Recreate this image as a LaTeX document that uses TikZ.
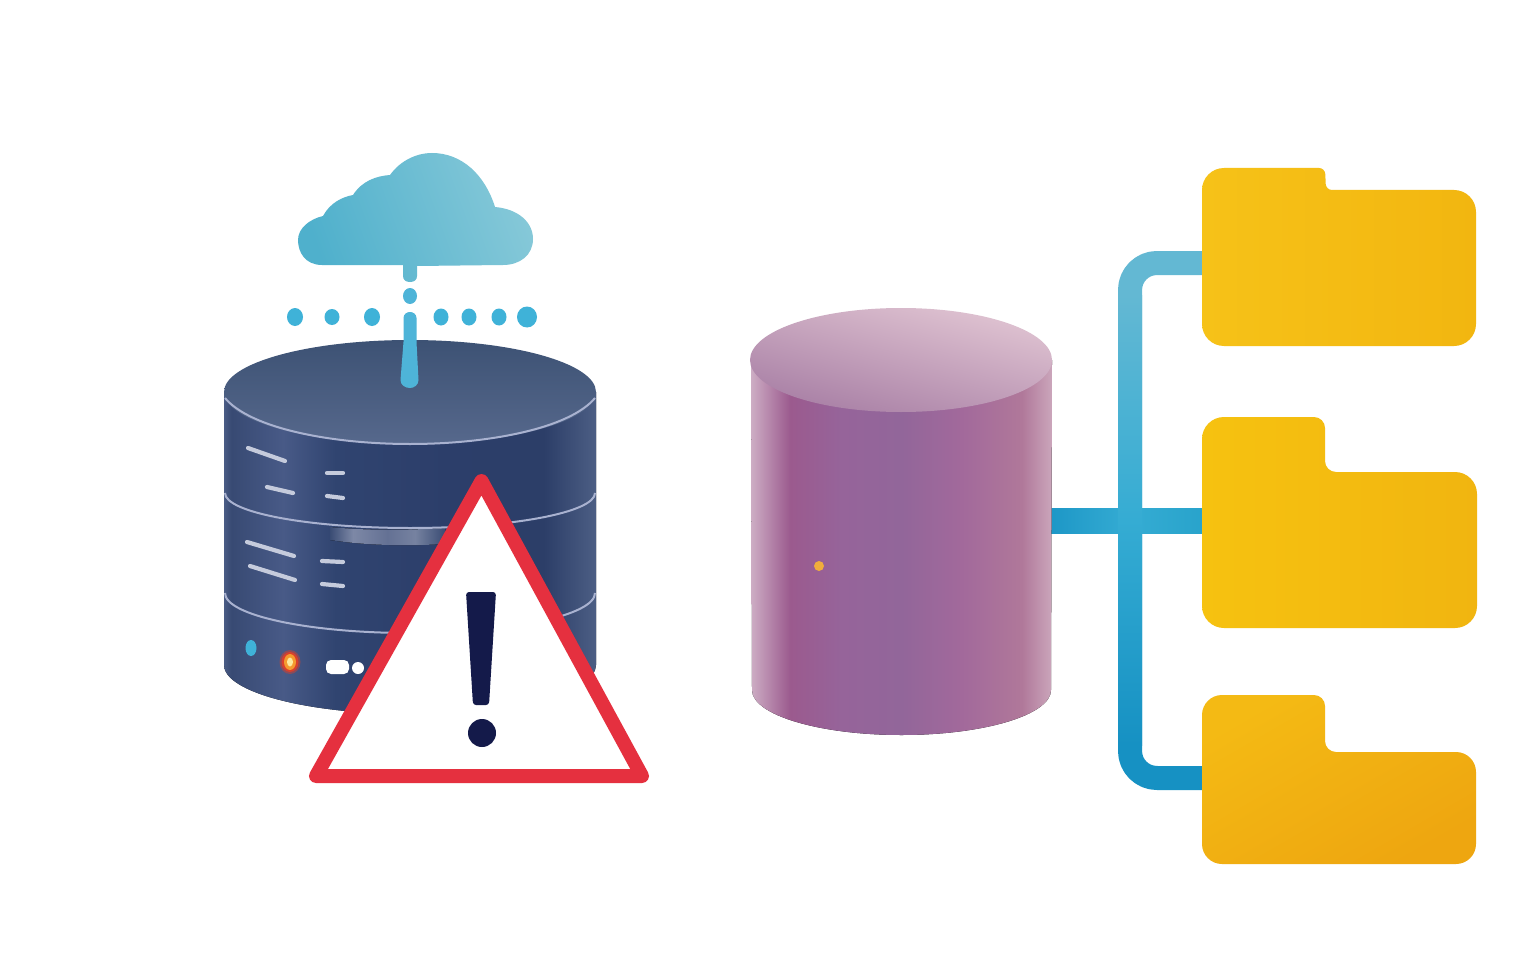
\documentclass[tikz,border=0pt]{standalone}
\definecolor{rimline}{HTML}{A9B2D0}
\definecolor{markline}{HTML}{C5CBDC}
\definecolor{dropblue}{HTML}{4EB4D8}
\definecolor{dotblue}{HTML}{3FB2D8}
\definecolor{alertred}{HTML}{E5303F}
\definecolor{alertink}{HTML}{141A4A}
\definecolor{linktop}{HTML}{63B8D3}
\definecolor{linkmid}{HTML}{35ACD3}
\definecolor{linkbot}{HTML}{1691C3}
\definecolor{linkleft}{HTML}{1C96C6}
\definecolor{linkright}{HTML}{28A3CB}
\definecolor{sa}{HTML}{4A5C85}
\definecolor{sb}{HTML}{384A73}
\definecolor{sc}{HTML}{485A87}
\definecolor{sd}{HTML}{304470}
\definecolor{se}{HTML}{2C3E6A}
\definecolor{sf}{HTML}{2C3E68}
\definecolor{sg}{HTML}{4C5E84}
\definecolor{servertop}{HTML}{3D5274}
\definecolor{serverlow}{HTML}{56688C}
\definecolor{ga}{HTML}{3A4C74}
\definecolor{gb}{HTML}{7D88A6}
\definecolor{gc}{HTML}{647194}
\definecolor{gd}{HTML}{7682A0}
\definecolor{da}{HTML}{CDADC4}
\definecolor{db}{HTML}{9B5A8E}
\definecolor{dc}{HTML}{96649A}
\definecolor{dd}{HTML}{92669A}
\definecolor{de}{HTML}{A2699B}
\definecolor{df}{HTML}{B0789A}
\definecolor{dg}{HTML}{CBA6BB}
\definecolor{drumtop}{HTML}{E0C4D2}
\definecolor{drumlow}{HTML}{A87FA5}
\definecolor{cloudleft}{HTML}{4FB0CC}
\definecolor{cloudright}{HTML}{85C8D8}
\definecolor{ledred}{HTML}{D8402C}
\definecolor{ledorange}{HTML}{F59A2E}
\definecolor{ledcore}{HTML}{FCE9A0}
\definecolor{spark}{HTML}{F0AD3C}
\definecolor{foldA}{HTML}{F6C218}
\definecolor{foldB}{HTML}{F2B610}
\definecolor{foldC}{HTML}{F6C210}
\definecolor{foldD}{HTML}{F1B510}
\definecolor{foldE}{HTML}{F4BA14}
\definecolor{foldF}{HTML}{EEA610}
\pgfdeclarehorizontalshading{serverbody}{100bp}{
  color(0bp)=(sa); color(25bp)=(sa); color(26bp)=(sb); color(33bp)=(sc);
  color(40bp)=(sd); color(55bp)=(se); color(68bp)=(sf); color(75bp)=(sg); color(100bp)=(sg)}
\pgfdeclarehorizontalshading{bandglow}{100bp}{
  color(0bp)=(ga); color(25bp)=(ga); color(35bp)=(gb); color(50bp)=(gc);
  color(62bp)=(gd); color(75bp)=(ga); color(100bp)=(ga)}
\pgfdeclarehorizontalshading{drumbody}{100bp}{
  color(0bp)=(da); color(25bp)=(da); color(31.5bp)=(db); color(40bp)=(dc);
  color(50bp)=(dd); color(60bp)=(de); color(70bp)=(df); color(75bp)=(dg); color(100bp)=(dg)}
\tikzset{
  x=1pt,y=-1pt,
  rimstroke/.style={draw=rimline,line width=2pt},
  markstroke/.style={draw=markline,line width=4.2pt,line cap=round},
  raindot/.style={fill=dotblue},
  link/.style={line width=24pt,line join=round},
}
\begin{document}
\begin{tikzpicture}
\path[use as bounding box,fill=white] (0,0) rectangle (1536,960);

% server cylinder
\fill[shading=serverbody] (224,392) -- (224,665) arc[start angle=180,end angle=0,x radius=186,y radius=49] -- (596,392) -- cycle;
\fill[shading=bandglow] (330,527) .. controls (370,531) and (410,530) .. (445,528) -- (445,544) .. controls (410,546) and (370,546) .. (330,540) -- cycle;
\draw[rimstroke] (225,493) arc[start angle=180,end angle=0,x radius=185,y radius=35];
\draw[rimstroke] (225,593) arc[start angle=180,end angle=0,x radius=185,y radius=40];
\shade[top color=servertop,bottom color=serverlow] (410,392) ellipse[x radius=186,y radius=52];
\draw[rimstroke] (225,398) .. controls (250,428) and (330,444) .. (410,444) .. controls (490,444) and (570,428) .. (595,398);
\draw[markstroke] (248,448) -- (285,461);
\draw[markstroke] (267,487) -- (293,493);
\draw[markstroke] (327,473) -- (343,473);
\draw[markstroke] (327,496) -- (343,498);
\draw[markstroke] (247,542) -- (294,556);
\draw[markstroke] (250,566) -- (295,580);
\draw[markstroke] (322,561) -- (343,562);
\draw[markstroke] (322,584) -- (343,586);
\fill[dotblue] (251,648) ellipse[x radius=5.5,y radius=8];
\fill[ledred,opacity=.5] (290,662) ellipse[x radius=10.5,y radius=12];
\fill[ledred] (290,662) ellipse[x radius=8.5,y radius=10];
\fill[ledorange] (290,662) ellipse[x radius=6,y radius=8];
\fill[ledcore] (290,662) ellipse[x radius=3,y radius=4.5];
\fill[white,rounded corners=5pt] (326,660) rectangle (349,674);
\fill[white] (358,668) circle[radius=6];

% cloud and its rain
\shade[left color=cloudleft,right color=cloudright,shading angle=110]
  (322,265) .. controls (305,265) and (298,252) .. (298,240)
  .. controls (298,228) and (310,219) .. (323,216)
  .. controls (330,203) and (342,197) .. (353,195)
  .. controls (362,181) and (376,176) .. (390,175)
  .. controls (400,161) and (416,153) .. (432,153)
  .. controls (462,153) and (485,175) .. (495,207)
  .. controls (518,209) and (533,222) .. (533,239)
  .. controls (533,255) and (520,265) .. (503,265)
  -- (417,266) -- (417,276)
  .. controls (417,280) and (414,282) .. (410,282)
  .. controls (406,282) and (403,280) .. (403,276)
  -- (403,265) -- cycle;
\fill[dropblue] (410,296) ellipse[x radius=7,y radius=8];
\fill[dropblue] (403.5,318) .. controls (403.5,314) and (407,312) .. (410,312)
  .. controls (413,312) and (416.5,314) .. (416.5,318)
  -- (416.5,342) -- (418.5,380) .. controls (418.5,385) and (414,388) .. (410,388)
  .. controls (405,388) and (400.5,385) .. (400.5,380) -- (403.5,342) -- cycle;
\fill[raindot] (295,317) ellipse[x radius=8,y radius=9];
\fill[raindot] (332,317) ellipse[x radius=7.5,y radius=8];
\fill[raindot] (372,317) ellipse[x radius=8,y radius=9];
\fill[raindot] (441,317) ellipse[x radius=7.5,y radius=8.5];
\fill[raindot] (469,317) ellipse[x radius=7.5,y radius=8.5];
\fill[raindot] (499,317) ellipse[x radius=7.5,y radius=8.5];
\fill[raindot] (527,317) ellipse[x radius=10,y radius=10.5];

% warning triangle
\draw[fill=white,draw=alertred,line width=14pt,line join=round] (481.5,481) -- (642,776) -- (316,776) -- cycle;
\fill[alertink,rounded corners=3pt] (466,592) -- (496,592) -- (489,705) -- (473,705) -- cycle;
\fill[alertink] (482,733) circle[radius=14];

% connector ends
\coordinate (drum) at (1046,521);
\coordinate (portA) at (1204,263);
\coordinate (portB) at (1204,521);
\coordinate (portC) at (1204,778);
\coordinate (trunkTop) at (1130,263);
\coordinate (trunkBot) at (1130,778);

% connectors
\draw[link,draw=linktop,rounded corners=27pt] (portA) -- (trunkTop) -- (trunkBot |- portB);
\draw[link,draw=linkbot,rounded corners=27pt] (portC) -- (trunkBot) -- (trunkTop |- portB);
\draw[link,draw=linkmid,line width=25pt] (drum) -- (portB);
\shade[left color=linkleft,right color=linkmid] (1046,508.5) rectangle (1130,533.5);
\shade[left color=linkmid,right color=linkright] (1130,508.5) rectangle (1204,533.5);
\shade[top color=linktop,bottom color=linkbot,middle color=linkmid] (1118,295) rectangle (1142,745);

% second cylinder
\fill[shading=drumbody] (751,360) -- (752,690) arc[start angle=180,end angle=0,x radius=149.5,y radius=45] -- (1052,360) -- cycle;
\shade[top color=drumtop,bottom color=drumlow,shading angle=-15] (901,360) ellipse[x radius=151,y radius=52];
\fill[spark] (819,566) circle[radius=5];

% folders
\shade[left color=foldA,right color=foldB]
  (1202,346) [rounded corners=22pt] -- (1202,168) [rounded corners=6pt] -- (1325,168) -- (1326,190) [rounded corners=22pt] -- (1476,190) -- (1476,346) -- cycle;
\shade[left color=foldC,right color=foldD]
  (1202,628) [rounded corners=22pt] -- (1202,417) [rounded corners=11pt] -- (1325,417) -- (1325,472) [rounded corners=22pt] -- (1477,472) -- (1477,628) -- cycle;
\shade[left color=foldE,right color=foldF,shading angle=30]
  (1202,864) [rounded corners=20pt] -- (1202,695) [rounded corners=11pt] -- (1325,695) -- (1325,752) [rounded corners=20pt] -- (1476,752) -- (1476,864) -- cycle;
\end{tikzpicture}
\end{document}
